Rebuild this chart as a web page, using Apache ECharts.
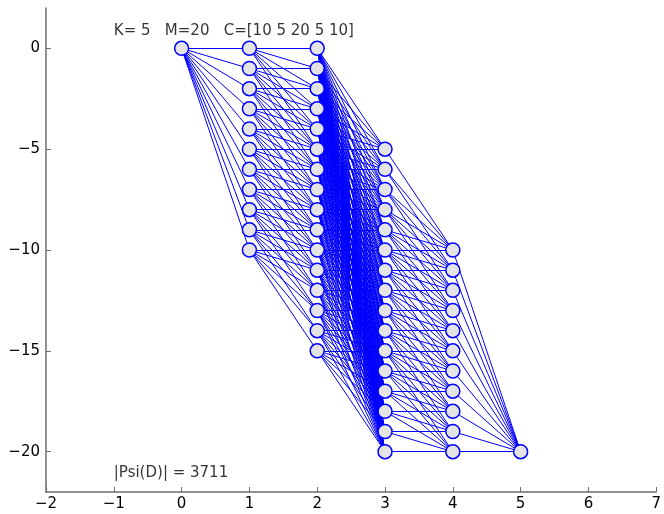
<!DOCTYPE html>
<html>
<head>
<meta charset="utf-8">
<script src="https://cdn.jsdelivr.net/npm/echarts@6/dist/echarts.min.js"></script>
<style>
  html, body { margin: 0; padding: 0; background: #fff; }
  #chart { width: 664px; height: 514px; }
</style>
</head>
<body>
<div id="chart"></div>
<script>
// layer positions and the node levels in each layer
const layerX = [0, 1, 2, 3, 4, 5];
const layer0 = [0];
const layer1 = [0, -1, -2, -3, -4, -5, -6, -7, -8, -9, -10];
const layer2 = [0, -1, -2, -3, -4, -5, -6, -7, -8, -9, -10, -11, -12, -13, -14, -15];
const layer3 = [-5, -6, -7, -8, -9, -10, -11, -12, -13, -14, -15, -16, -17, -18, -19, -20];
const layer4 = [-10, -11, -12, -13, -14, -15, -16, -17, -18, -19, -20];
const layer5 = [-20];
// max drop allowed between consecutive layers (C)
const stepLimit = [10, 5, 20, 5, 10];

const xTicks = [-2, -1, 0, 1, 2, 3, 4, 5, 6, 7];
const yTicks = [-20, -15, -10, -5, 0];

const headerText = "K= 5   M=20   C=[10 5 20 5 10]";
const countText = "|Psi(D)| = 3711";

const layers = [layer0, layer1, layer2, layer3, layer4, layer5];

let nodes = [];
layers.forEach((lv, k) => {
  lv.forEach((v) => nodes.push([layerX[k], v]));
});

let edges = [];
for (let k = 0; k < layers.length - 1; k++) {
  for (const v of layers[k]) {
    for (const w of layers[k + 1]) {
      const drop = v - w;
      if (drop >= 0 && drop <= stepLimit[k]) {
        edges.push({ coords: [[layerX[k], v], [layerX[k + 1], w]] });
      }
    }
  }
}

const minus = (v) => String(v).replace("-", "\u2212");
const font = "DejaVu Sans, sans-serif";
const axisGray = "#6e6e6e";

const axisCommon = {
  axisLine: { show: true, onZero: false, lineStyle: { color: axisGray, width: 1.5 } },
  splitLine: { show: false },
  axisLabel: {
    color: "#000",
    fontSize: 15,
    fontFamily: font,
    formatter: minus,
  },
};

const chart = echarts.init(document.getElementById("chart"));
chart.setOption({
  animation: false,
  backgroundColor: "#fff",
  grid: { left: 46, right: 7, top: 8, bottom: 22, containLabel: false },
  xAxis: {
    ...axisCommon,
    type: "value",
    min: -2,
    max: 7,
    interval: 1,
    axisTick: { inside: true, length: 5, lineStyle: { color: axisGray }, customValues: xTicks },
    axisLabel: { ...axisCommon.axisLabel, margin: 5, customValues: xTicks },
  },
  yAxis: {
    ...axisCommon,
    type: "value",
    min: -22,
    max: 2,
    axisTick: { inside: true, length: 5, lineStyle: { color: axisGray }, customValues: yTicks },
    axisLabel: { ...axisCommon.axisLabel, margin: 6, customValues: yTicks },
  },
  series: [
    {
      type: "lines",
      coordinateSystem: "cartesian2d",
      polyline: false,
      silent: true,
      z: 2,
      lineStyle: { color: "#0000ff", width: 1, opacity: 1 },
      data: edges,
    },
    {
      type: "scatter",
      z: 3,
      symbol: "circle",
      symbolSize: 14,
      itemStyle: { color: "#e4e4e4", borderColor: "#0000ff", borderWidth: 1.5, opacity: 1 },
      data: nodes,
    },
    {
      type: "scatter",
      z: 4,
      symbolSize: 0,
      silent: true,
      data: [
        { value: [-1, 1], label: { formatter: headerText, offset: [0, 3] } },
        { value: [-1, -21], label: { formatter: countText, offset: [0, 1] } },
      ],
      label: {
        show: true,
        position: "right",
        distance: 0,
        color: "#000",
        fontSize: 15,
        fontFamily: font,
      },
    },
  ],
});
</script>
</body>
</html>
